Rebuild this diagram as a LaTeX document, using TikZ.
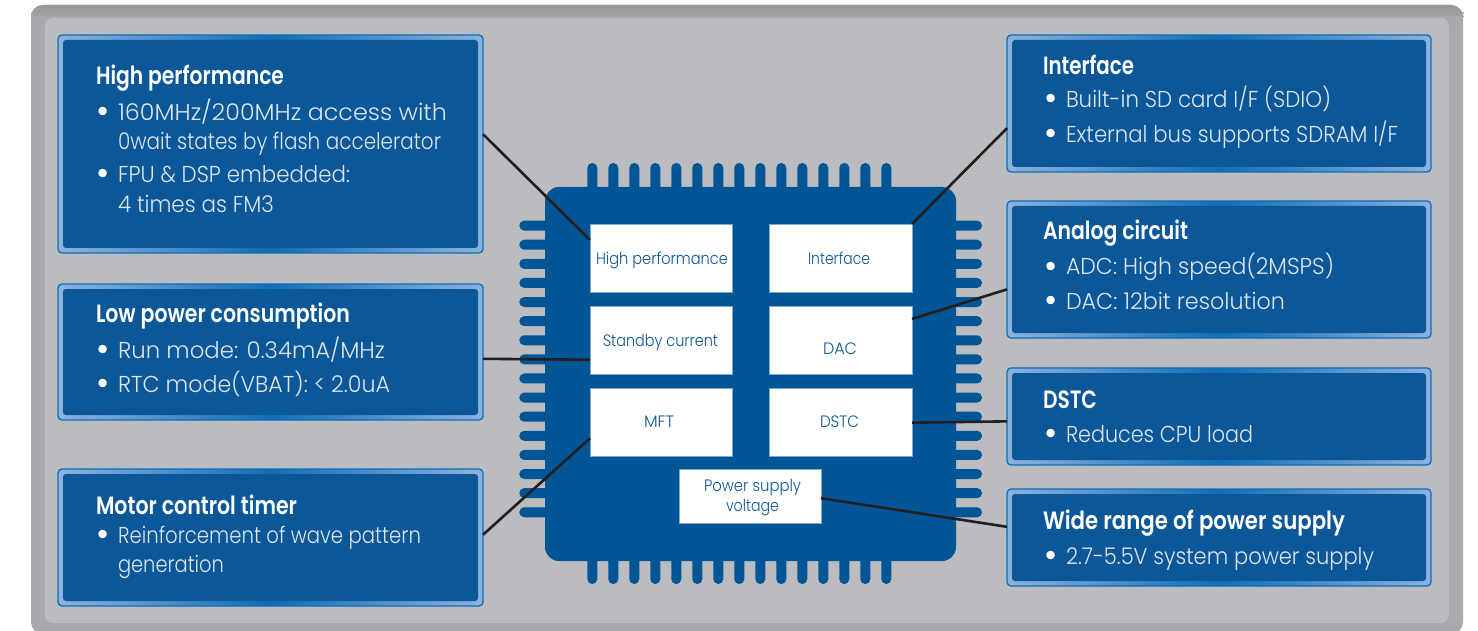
\documentclass[tikz,border=0pt]{standalone}
\usepackage{graphicx}
\usepackage{fontspec}
\setmainfont{Poppins Light}
\newfontfamily\headf{Poppins SemiBold}
\usetikzlibrary{calc}
\definecolor{outerg}{HTML}{A8A9AC}
\definecolor{outertop}{HTML}{98989C}
\definecolor{innerg}{HTML}{BBBCBF}
\definecolor{chipblue}{HTML}{005596}
\definecolor{panelblue}{HTML}{0C5798}
\definecolor{rimblue}{HTML}{0F6DB6}
\definecolor{rimlight}{HTML}{8DB2DF}
\definecolor{bodytxt}{HTML}{DCE6F2}
\definecolor{wire}{HTML}{231F20}
\newcommand{\fitw}[2]{\resizebox{#1pt}{\height}{#2}}
\tikzset{
  x=1pt,y=-1pt,
  rim/.style={inner sep=0,outer sep=0,rounded corners=4pt,left color=rimlight,right color=rimlight,middle color=rimblue,draw=rimblue,line width=1.3pt},
  panel/.style={fill=panelblue,rounded corners=3pt},
  head/.style={anchor=base west,inner sep=0,outer sep=0,text=white,font=\headf\fontsize{25}{25}\selectfont},
  body/.style={anchor=base west,inner sep=0,outer sep=0,text=bodytxt,font=\fontsize{23}{23}\selectfont},
  bull/.style={anchor=base,inner sep=0,outer sep=0,text=white,yshift=-3pt,font=\fontsize{36}{36}\selectfont},
  cell/.style={fill=white,draw=chipblue!50!white,line width=.4pt,inner sep=0,outer sep=0},
  chiptxt/.style={anchor=base west,inner sep=0,outer sep=0,text=panelblue,font=\fontsize{16.5}{16.5}\selectfont},
  wirel/.style={draw=wire,line width=2.6pt},
  pinv/.style={fill=chipblue},
}
\begin{document}
\begin{tikzpicture}
\useasboundingbox (0,0) rectangle (1478,631);
% frame
\path[fill=outerg,rounded corners=12pt] (31,5) rectangle (1463,634);
\path[top color=outertop,bottom color=outerg,rounded corners=12pt] (31,5) rectangle (1463,24);
\path[fill=outerg] (31,16) rectangle (1463,24);
\path[fill=innerg,rounded corners=8pt] (45,18) rectangle (1449,623);
% chip pins
\foreach \i in {0,...,14}{
  \path[pinv,rounded corners=4.9pt] (587.3+\i*21.0,195) -- (587.3+\i*21.0,163) -- (597.3+\i*21.0,163) -- (597.3+\i*21.0,195) -- cycle;
  \path[pinv,rounded corners=4.9pt] (587.3+\i*21.0,550) -- (587.3+\i*21.0,584) -- (597.3+\i*21.0,584) -- (597.3+\i*21.0,550) -- cycle;
}
\foreach \i in {0,...,15}{
  \path[pinv,rounded corners=4.9pt] (555,220.6+\i*19.11) -- (519.3,220.6+\i*19.11) -- (519.3,230.6+\i*19.11) -- (555,230.6+\i*19.11) -- cycle;
  \path[pinv,rounded corners=4.9pt] (945,220.6+\i*19.11) -- (982,220.6+\i*19.11) -- (982,230.6+\i*19.11) -- (945,230.6+\i*19.11) -- cycle;
}
\path[fill=chipblue,rounded corners=14pt] (545,187) rectangle (956,561);
% white cells
\node[cell,minimum width=142pt,minimum height=68pt,anchor=north west] (cHP) at (590,224) {};
\node[cell,minimum width=143pt,minimum height=68pt,anchor=north west] (cIF) at (769,224) {};
\node[cell,minimum width=142pt,minimum height=68pt,anchor=north west] (cSB) at (590,306) {};
\node[cell,minimum width=143pt,minimum height=68pt,anchor=north west] (cDA) at (769,306) {};
\node[cell,minimum width=142pt,minimum height=68pt,anchor=north west] (cMF) at (590,388) {};
\node[cell,minimum width=143pt,minimum height=68pt,anchor=north west] (cDS) at (769,388) {};
\node[cell,minimum width=142pt,minimum height=54pt,anchor=north west] (cPW) at (679,469) {};
\node[chiptxt] (tHP) at (596,265) {\fitw{132}{High performance}};
\node[chiptxt] (tIF) at (808,265) {\fitw{62}{Interface}};
\node[chiptxt] (tSB) at (603,346) {\fitw{115}{Standby current}};
\node[chiptxt] (tDA) at (823,354) {\fitw{34}{DAC}};
\node[chiptxt] (tMF) at (644,427) {\fitw{30}{MFT}};
\node[chiptxt] (tDS) at (820,427) {\fitw{39}{DSTC}};
\node[chiptxt] (tPa) at (704,491) {\fitw{97}{Power supply}};
\node[chiptxt] (tPb) at (726,511) {\fitw{53}{voltage}};
% panels
\node[rim,minimum width=425pt,minimum height=218pt,anchor=north west] (bHP) at (58,35) {};
\node[rim,minimum width=425pt,minimum height=136pt,anchor=north west] (bLP) at (58,284) {};
\node[rim,minimum width=425pt,minimum height=137pt,anchor=north west] (bMC) at (58,469) {};
\node[rim,minimum width=424pt,minimum height=137pt,anchor=north west] (bIF) at (1007,35) {};
\node[rim,minimum width=424pt,minimum height=137pt,anchor=north west] (bAN) at (1007,201) {};
\node[rim,minimum width=424pt,minimum height=97pt,anchor=north west] (bDS) at (1007,368) {};
\node[rim,minimum width=424pt,minimum height=97pt,anchor=north west] (bWR) at (1007,489) {};
\foreach \n in {bHP,bLP,bMC,bIF,bAN,bDS,bWR}{
  \path[panel] ($(\n.north west)+(5,5)$) rectangle ($(\n.south east)+(-5,-5)$);
}
% left text
\node[head] (h1) at (96,85) {\fitw{188}{High performance}};
\node[bull] (b1) at (103,121) {•};
\node[body] (l1) at (118,121) {\fitw{329}{160MHz/200MHz access with}};
\node[body] (l2) at (118,150) {\fitw{323}{0wait states by flash accelerator}};
\node[bull] (b2) at (103,183) {•};
\node[body] (l3) at (118,183) {\fitw{232}{FPU \& DSP embedded:}};
\node[body] (l4) at (118,213) {\fitw{156}{4 times as FM3}};
\node[head] (h2) at (96,323) {\fitw{254}{Low power consumption}};
\node[bull] (b3) at (103,358) {•};
\node[body] (l5) at (118,358) {\fitw{267}{Run mode: 0.34mA/MHz}};
\node[bull] (b4) at (103,392) {•};
\node[body] (l6) at (118,392) {\fitw{272}{RTC mode(VBAT): < 2.0uA}};
\node[head] (h3) at (96,514) {\fitw{201}{Motor control timer}};
\node[bull] (b5) at (103,543) {•};
\node[body] (l7) at (118,543) {\fitw{303}{Reinforcement of wave pattern}};
\node[body] (l8) at (118,572) {\fitw{106}{generation}};
% right text
\node[head] (h4) at (1043,75) {\fitw{91}{Interface}};
\node[bull] (b6) at (1051,108) {•};
\node[body] (r1) at (1066,108) {\fitw{265}{Built-in SD card I/F (SDIO)}};
\node[bull] (b7) at (1051,143) {•};
\node[body] (r2) at (1066,143) {\fitw{332}{External bus supports SDRAM I/F}};
\node[head] (h5) at (1043,240) {\fitw{145}{Analog circuit}};
\node[bull] (b8) at (1051,275) {•};
\node[body] (r3) at (1066,275) {\fitw{268}{ADC: High speed(2MSPS)}};
\node[bull] (b9) at (1051,309) {•};
\node[body] (r4) at (1066,309) {\fitw{219}{DAC: 12bit resolution}};
\node[head] (h6) at (1043,408) {\fitw{54}{DSTC}};
\node[bull] (b10) at (1051,442) {•};
\node[body] (r5) at (1066,442) {\fitw{187}{Reduces CPU load}};
\node[head] (h7) at (1043,529) {\fitw{302}{Wide range of power supply}};
\node[bull] (b11) at (1051,564) {•};
\node[body] (r6) at (1066,564) {\fitw{308}{2.7-5.5V system power supply}};
% connectors
\draw[wirel] ($(bHP.north east)!.455!(bHP.south east)$) -- ($(cHP.north west)!.235!(cHP.south west)$);
\draw[wirel] ($(bLP.north east)!.55!(bLP.south east)$) -- ($(cSB.north west)!.79!(cSB.south west)$);
\draw[wirel] ($(bMC.north east)!.48!(bMC.south east)$) -- ($(cMF.north west)!.74!(cMF.south west)$);
\draw[wirel] ($(bIF.north west)!.68!(bIF.south west)$) -- (cIF.north east);
\draw[wirel] ($(bAN.north west)!.645!(bAN.south west)$) -- ($(cDA.north east)!.19!(cDA.south east)$);
\draw[wirel] ($(bDS.north west)!.55!(bDS.south west)$) -- ($(cDS.north east)!.51!(cDS.south east)$);
\draw[wirel] ($(bWR.north west)!.39!(bWR.south west)$) -- ($(cPW.north east)!.54!(cPW.south east)$);
\end{tikzpicture}
\end{document}
